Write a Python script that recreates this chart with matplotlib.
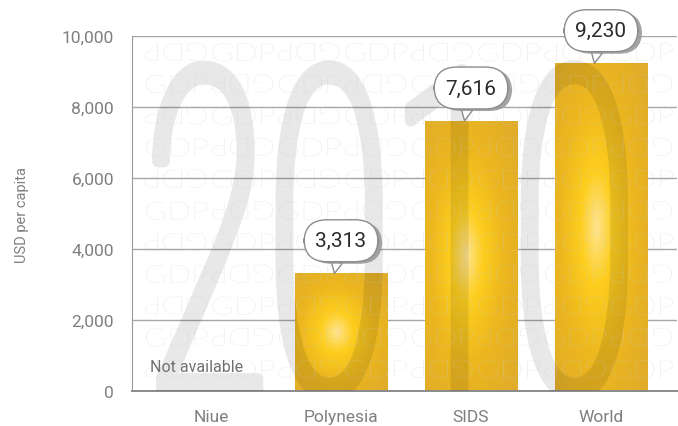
import numpy as np
import matplotlib
matplotlib.use("Agg")
import matplotlib.pyplot as plt
import matplotlib.patheffects as pe
from matplotlib.textpath import TextPath
from matplotlib.font_manager import FontProperties
from matplotlib.transforms import Affine2D, IdentityTransform

# data
categories = ["Niue", "Polynesia", "SIDS", "World"]
gdp = [np.nan, 3313, 7616, 9230]
value_labels = ["Not available", "3,313", "7,616", "9,230"]
yticks = [0, 2000, 4000, 6000, 8000, 10000]
ytick_labels = ["0", "2,000", "4,000", "6,000", "8,000", "10,000"]
year = "2010"

W, H = 678, 427


class Squeeze(pe.AbstractPathEffect):
    """draw text squeezed/stretched horizontally about x0 (display px)"""

    def __init__(self, sx, x0, lw=None, color=None):
        super().__init__()
        self.sx, self.x0, self.lw, self.color = sx, x0, lw, color

    def draw_path(self, renderer, gc, tpath, affine, rgbFace=None):
        aff = affine + Affine2D().translate(-self.x0, 0).scale(self.sx, 1).translate(self.x0, 0)
        if self.lw is None:
            renderer.draw_path(gc, tpath, aff, rgbFace)
        else:
            gc0 = renderer.new_gc()
            gc0.copy_properties(gc)
            gc0.set_linewidth(self.lw)
            gc0.set_foreground(self.color)
            gc0.set_joinstyle("round")
            renderer.draw_path(gc0, tpath, aff, None)
            gc0.restore()


fig = plt.figure(figsize=(W / 100, H / 100), dpi=100)
ax = fig.add_axes([132 / W, 35 / H, (677 - 132) / W, 355 / H])

x = np.arange(len(categories))
bw = 0.71

# gridlines below the bars
ax.set_axisbelow(True)
ax.yaxis.grid(True, color="#a6a6a6", lw=1)
for s in ["top", "right"]:
    ax.spines[s].set_visible(False)
ax.spines["left"].set_color("#9a9a9a")
ax.spines["bottom"].set_color("#8a8a8a")
ax.spines["bottom"].set_linewidth(1.4)


# golden bars with a radial glow
def gradient(n=200, m=80, cx=0.45, cy=0.5):
    yy, xx = np.mgrid[0:1:n * 1j, 0:1:m * 1j]
    r = np.sqrt(((xx - cx) / 0.5) ** 2 + ((yy - cy) / 0.5) ** 2)
    stops = [0.0, 0.35, 0.8, 1.4]
    cols = np.array([(255, 228, 145), (253, 206, 30), (236, 183, 30), (224, 172, 42)]) / 255
    return np.dstack([np.interp(r, stops, cols[:, c]) for c in range(3)])


bars = ax.bar(x, np.nan_to_num(gdp), width=bw, color="#e4b02a", zorder=2)
for b, v in zip(bars, gdp):
    if np.isnan(v):
        continue
    im = ax.imshow(gradient(), origin="lower", aspect="auto", zorder=2.1,
                   extent=(b.get_x(), b.get_x() + b.get_width(), 0, v))
    im.set_clip_path(b)

ax.set_xlim(-0.608, 3.585)
ax.set_ylim(0, 10000)

# big year watermark (condensed, drawn as a wide translucent stroke)
stroke = 12
fp_year = FontProperties(family="Roboto", weight=100)
em_px = 336 - stroke - 4
yp = TextPath((0, 0), year, size=em_px / 0.711, prop=fp_year)
ye = yp.get_extents()
sx = (628 - 152 - stroke) / ye.width
xa = 152 + stroke / 2 - sx * ye.x0
ax.text(xa, H - 398 + stroke / 2, year, transform=IdentityTransform(),
        ha="left", va="baseline", fontproperties=fp_year,
        fontsize=em_px / 0.711 * 0.72, zorder=3, clip_on=True,
        path_effects=[Squeeze(sx, xa, lw=stroke * 0.72, color=(0, 0, 0, 0.09))])

# GDP pattern watermark, upright and upside-down blocks
fp_gdp = FontProperties(family="Lato", weight="light")
cap = 18
gsize = cap / 0.7165
ge = TextPath((0, 0), "GDP", size=gsize, prop=fp_gdp).get_extents()
gsx = 61 / ge.width
for i in range(11):
    cy = H - (53 + 31.7 * i)
    for k in range(9):
        cx = 143 + 33.25 + k * 66.5
        rot = (k + i) % 2 == 0
        ax.text(cx, cy + cap / 2 if rot else cy - cap / 2, "GDP",
                transform=IdentityTransform(), ha="center", va="baseline",
                rotation=180 if rot else 0, rotation_mode="anchor",
                fontproperties=fp_gdp, fontsize=gsize * 0.72,
                color=(0.8, 0.8, 0.8), alpha=0.68, clip_on=True, zorder=3.5,
                path_effects=[Squeeze(gsx, cx)])

# value balloons
for xi, v, lab in zip(x, gdp, value_labels):
    if np.isnan(v):
        ax.text(xi - 0.47, 700, lab, ha="left", va="center", fontsize=11.5,
                family="Roboto", color="#707070", zorder=5)
        continue
    ann = ax.annotate(lab, xy=(xi - 0.05, v), xytext=(4.7, 23.5), textcoords="offset points",
                      ha="center", va="center", fontsize=15, family="Roboto",
                      color="#2b2b2b", zorder=6,
                      bbox=dict(boxstyle="round,pad=0.55,rounding_size=1.1",
                                fc="white", ec="#8c8c8c", lw=1),
                      arrowprops=dict(arrowstyle="wedge,tail_width=0.55,shrink_factor=0.5",
                                      fc="white", ec="#8c8c8c", lw=1, shrinkA=0, shrinkB=0))
    ann.get_bbox_patch().set_path_effects([
        pe.SimplePatchShadow(offset=(3, -1.5), shadow_rgbFace="#9a9a9a", alpha=0.9),
        pe.Normal()])

ax.set_xticks(x)
ax.set_xticklabels(categories)
ax.set_yticks(yticks)
ax.set_yticklabels(ytick_labels)
ax.tick_params(length=0, labelcolor="#7f7f7f", labelsize=12.5)
ax.tick_params(axis="y", pad=13)
ax.tick_params(axis="x", pad=13)
for t in ax.get_xticklabels() + ax.get_yticklabels():
    t.set_family("Roboto")

fig.text(22 / W, 1 - 215 / H, "USD per capita", rotation=90, ha="center", va="center",
         fontsize=10.5, family="Roboto", color="#808080")

fig.savefig("out.png", dpi=100)
